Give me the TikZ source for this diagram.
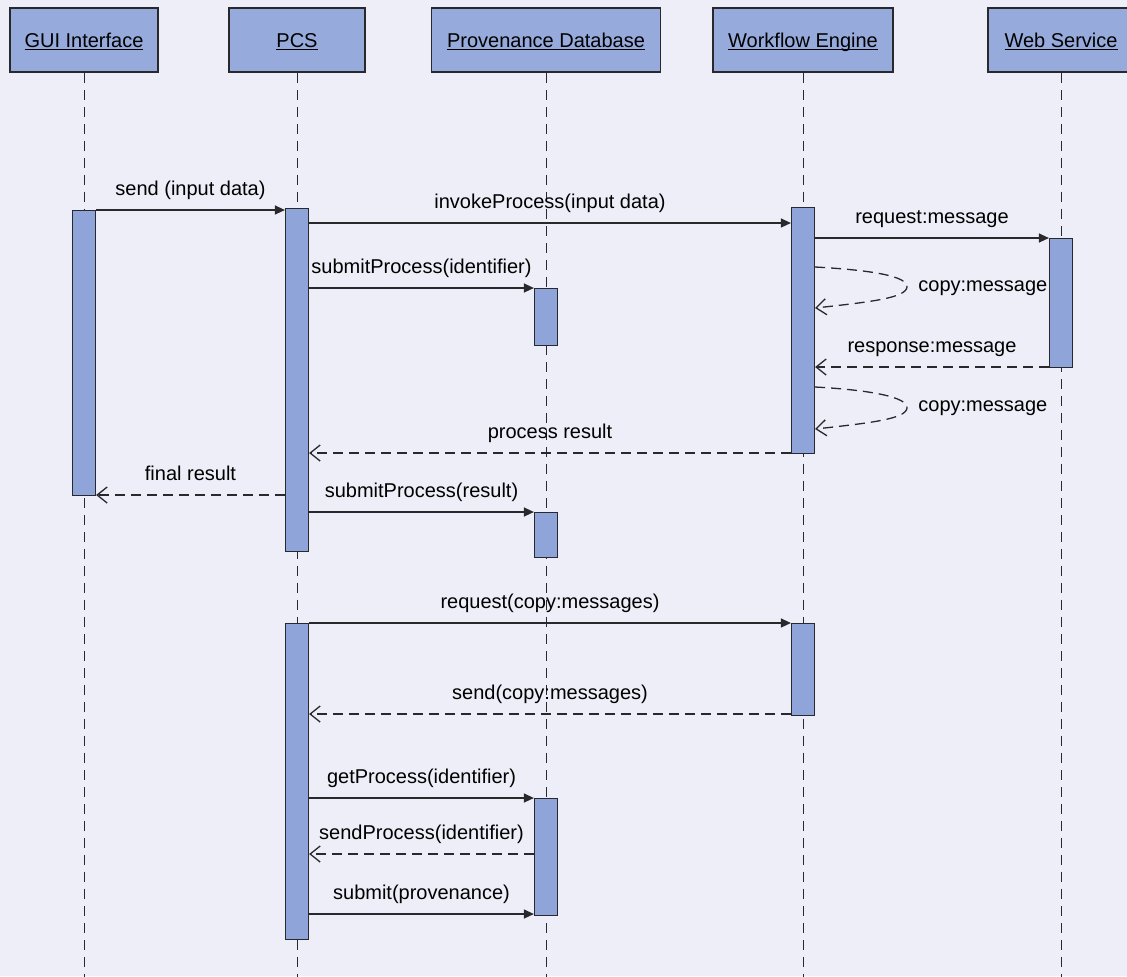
\documentclass[tikz,border=0pt]{standalone}
\usepackage{fontspec}
\setmainfont{Liberation Sans}
\usetikzlibrary{arrows.meta}
\definecolor{pagebg}{RGB}{237,238,247}
\definecolor{actfill}{RGB}{143,165,218}
\definecolor{hdrfill}{RGB}{150,170,220}
\definecolor{ink}{RGB}{40,40,45}

% activation bar: name, x of lifeline, top y, bottom y
\newcommand\activation[4]{%
  \node[actbar, minimum height={((#4)-(#3))*0.5pt}] (#1) at (#2,#3) {};}
% participant label, underlined just below the baseline
\newcommand\rolelabel[1]{\underline{\smash{#1}}}

\begin{document}
\begin{tikzpicture}[x=0.5pt,y=-0.5pt,
  font=\fontsize{10}{12}\selectfont,
  header/.style={draw=ink, line width=0.9pt, fill=hdrfill, minimum height=32pt, inner sep=0pt, text height=7pt, text depth=0pt},
  lifeline/.style={draw=ink, line width=0.5pt, dash pattern=on 5pt off 3.5pt},
  actbar/.style={draw=ink, line width=0.6pt, fill=actfill, minimum width=11.5pt, inner sep=0pt, anchor=north},
  call/.style={draw=ink, line width=0.65pt, -{Triangle[length=5pt,width=4.5pt]}},
  reply/.style={draw=ink, line width=0.65pt, dash pattern=on 5pt off 3pt, -{Straight Barb[length=5pt,width=8pt]}},
  msg/.style={anchor=base, inner sep=0pt}
]
\fill[pagebg] (0,0) rectangle (1127,976);
\useasboundingbox (0,0) rectangle (1127,976);
\clip (0,0) rectangle (1127,976);

% participants
\node[header, minimum width=74pt]   (hgui) at (84,40)   {\rolelabel{GUI Interface}};
\node[header, minimum width=68pt]   (hpcs) at (297,40)  {\rolelabel{PCS}};
\node[header, minimum width=114.5pt](hdb)  at (546,40)  {\rolelabel{Provenance Database}};
\node[header, minimum width=90pt]   (hwf)  at (803,40)  {\rolelabel{Workflow Engine}};
\node[header, minimum width=73pt]   (hws)  at (1061,40) {\rolelabel{Web Service}};

% lifelines
\foreach \h in {hgui,hpcs,hdb,hwf,hws}
  \draw[lifeline] (\h.south) -- (\h.south |- 0,980);

% activation bars
\activation{gbar}{84}{210}{495}
\activation{pbarA}{297}{208}{551}
\activation{pbarB}{297}{623}{939}
\activation{dbarA}{546}{288}{345}
\activation{dbarB}{546}{512}{557}
\activation{dbarC}{546}{798}{915}
\activation{wbarA}{803}{207}{453}
\activation{wbarB}{803}{623}{715}
\activation{sbar}{1061}{238}{367}

% messages
\draw[call] (gbar.east |- 0,210) -- (pbarA.west |- 0,210);
\node[msg] (m1) at (190.5,195) {send (input data)};

\draw[call] (pbarA.east |- 0,223) -- (wbarA.west |- 0,223);
\node[msg] (m2) at (550,208) {invokeProcess(input data)};

\draw[call] (pbarA.east |- 0,288) -- (dbarA.west |- 0,288);
\node[msg] (m3) at (421.5,273) {submitProcess(identifier)};

\draw[call] (wbarA.east |- 0,238) -- (sbar.west |- 0,238);
\node[msg] (m4) at (932,223) {request:message};

% self messages: the engine keeps a copy of each exchanged message
\draw[reply] (wbarA.east |- 0,267) .. controls (870,270) and (908,276) .. (907,287)
             .. controls (906,298) and (870,302) .. (wbarA.east |- 0,308);
\node[anchor=west, inner sep=0pt] (m5) at (918,288) {copy:message};

\draw[reply] (sbar.west |- 0,367) -- (wbarA.east |- 0,367);
\node[msg] (m6) at (932,352) {response:message};

\draw[reply] (wbarA.east |- 0,387) .. controls (870,390) and (908,397) .. (907,408)
             .. controls (906,419) and (870,423) .. (wbarA.east |- 0,429);
\node[anchor=west, inner sep=0pt] (m7) at (918,408) {copy:message};

\draw[reply] (wbarA.west |- 0,453) -- (pbarA.east |- 0,453);
\node[msg] (m8) at (550,438) {process result};

\draw[reply] (pbarA.west |- 0,495) -- (gbar.east |- 0,495);
\node[msg] (m9) at (190.5,480) {final result};

\draw[call] (pbarA.east |- 0,512) -- (dbarB.west |- 0,512);
\node[msg] (m10) at (421.5,497) {submitProcess(result)};

\draw[call] (pbarB.east |- 0,623) -- (wbarB.west |- 0,623);
\node[msg] (m11) at (550,608) {request(copy:messages)};

\draw[reply] (wbarB.west |- 0,714) -- (pbarB.east |- 0,714);
\node[msg] (m12) at (550,699) {send(copy:messages)};

\draw[call] (pbarB.east |- 0,798) -- (dbarC.west |- 0,798);
\node[msg] (m13) at (421.5,783) {getProcess(identifier)};

\draw[reply] (dbarC.west |- 0,854) -- (pbarB.east |- 0,854);
\node[msg] (m14) at (421.5,839) {sendProcess(identifier)};

\draw[call] (pbarB.east |- 0,914) -- (dbarC.west |- 0,914);
\node[msg] (m15) at (421.5,899) {submit(provenance)};
\end{tikzpicture}
\end{document}
